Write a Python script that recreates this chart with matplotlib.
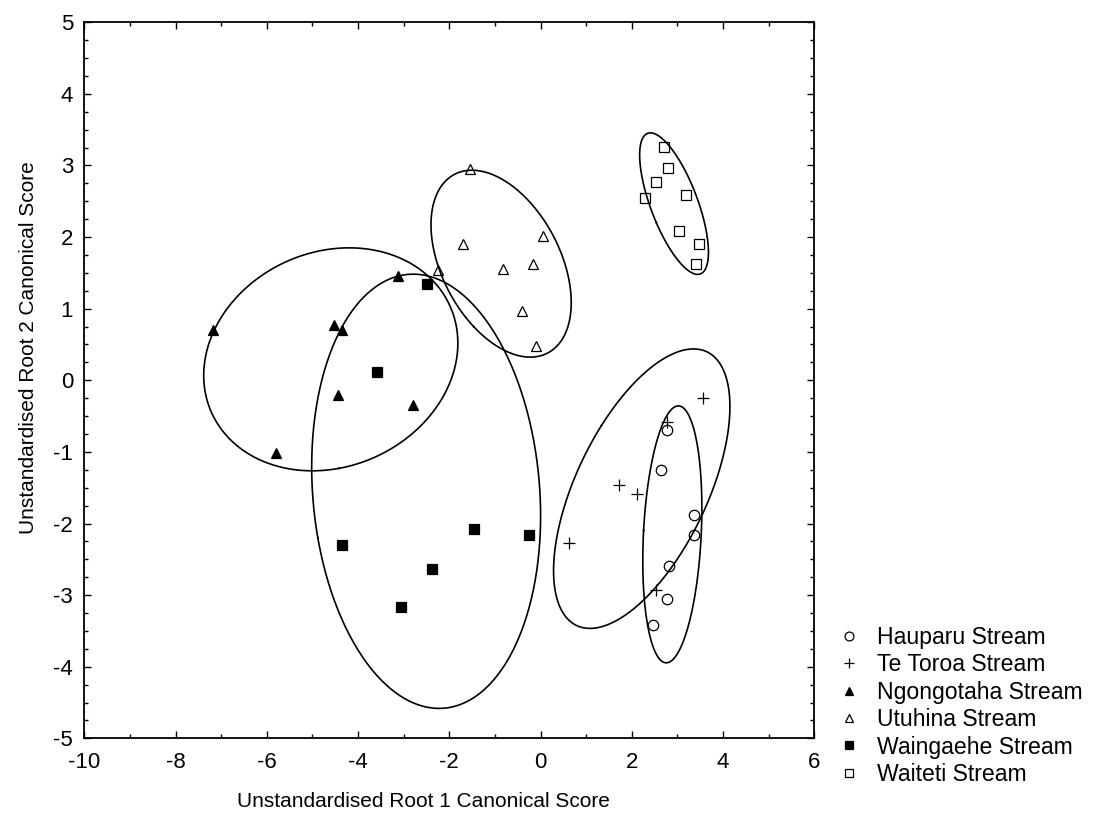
import numpy as np
import matplotlib.pyplot as plt
from matplotlib.ticker import MultipleLocator

plt.rcParams['font.family'] = ['Liberation Sans', 'DejaVu Sans']
plt.rcParams['axes.unicode_minus'] = False

# canonical scores, one pair of lists per stream
hauparu_x = [2.78, 2.64, 3.37, 3.37, 2.82, 2.78, 2.46]
hauparu_y = [-0.69, -1.25, -1.88, -2.16, -2.60, -3.06, -3.42]

tetoroa_x = [3.55, 2.77, 1.72, 2.11, 0.63, 2.53]
tetoroa_y = [-0.25, -0.58, -1.46, -1.59, -2.27, -2.93]

ngongotaha_x = [-7.18, -5.79, -4.52, -4.35, -4.43, -3.12, -2.79]
ngongotaha_y = [0.70, -1.01, 0.77, 0.70, -0.21, 1.45, -0.35]

utuhina_x = [-1.55, 0.06, -1.69, -2.24, -0.82, -0.16, -0.41, -0.10]
utuhina_y = [2.95, 2.02, 1.90, 1.54, 1.55, 1.62, 0.97, 0.48]

waingaehe_x = [-2.48, -3.58, -4.35, -1.46, -0.25, -2.37, -3.06]
waingaehe_y = [1.35, 0.12, -2.30, -2.07, -2.16, -2.63, -3.16]

waiteti_x = [2.71, 2.79, 2.53, 2.28, 3.18, 3.04, 3.48, 3.40]
waiteti_y = [3.26, 2.96, 2.77, 2.54, 2.59, 2.08, 1.91, 1.63]

groups = [
    ("Hauparu Stream", hauparu_x, hauparu_y, "o", "none", 7.5),
    ("Te Toroa Stream", tetoroa_x, tetoroa_y, "+", "black", 9),
    ("Ngongotaha Stream", ngongotaha_x, ngongotaha_y, "^", "black", 7.5),
    ("Utuhina Stream", utuhina_x, utuhina_y, "^", "none", 7.5),
    ("Waingaehe Stream", waingaehe_x, waingaehe_y, "s", "black", 7.5),
    ("Waiteti Stream", waiteti_x, waiteti_y, "s", "none", 7.5),
]

# two-sided 97.5% t quantiles by degrees of freedom, used to size the ellipses
T975 = {5: 2.571, 6: 2.447, 7: 2.365}


def draw_ellipse(ax, x, y):
    pts = np.column_stack([x, y])
    mu = pts.mean(axis=0)
    cov = np.cov(pts, rowvar=False)
    vals, vecs = np.linalg.eigh(cov)
    k = 0.755 * T975[len(x) - 1]
    t = np.linspace(0, 2 * np.pi, 400)
    circ = np.vstack([np.cos(t), np.sin(t)])
    xy = vecs @ (np.sqrt(vals)[:, None] * circ) * k + mu[:, None]
    ax.plot(xy[0], xy[1], color="black", lw=1.2, zorder=2)


fig = plt.figure(figsize=(10.93, 8.16), dpi=100)
ax = fig.add_axes([0.0771, 0.0952, 0.6679, 0.8775])

for name, x, y, m, fc, ms in groups:
    draw_ellipse(ax, x, y)
    ax.plot(x, y, linestyle="none", marker=m, markersize=ms,
            markerfacecolor=fc, markeredgecolor="black",
            markeredgewidth=0.9, label=name, zorder=3)

ax.set_xlim(-10, 6)
ax.set_ylim(-5, 5)
ax.xaxis.set_major_locator(MultipleLocator(2))
ax.xaxis.set_minor_locator(MultipleLocator(1))
ax.yaxis.set_major_locator(MultipleLocator(1))
ax.yaxis.set_minor_locator(MultipleLocator(0.25))
ax.tick_params(which="both", direction="in", top=True, right=True,
               labelsize=16, width=1.0)
ax.tick_params(axis="x", pad=10)
ax.tick_params(axis="y", pad=8)
ax.tick_params(which="major", length=5)
ax.tick_params(which="minor", length=3)
for s in ax.spines.values():
    s.set_linewidth(1.3)

ax.set_xlabel("Unstandardised Root 1 Canonical Score", fontsize=15)
ax.set_ylabel("Unstandardised Root 2 Canonical Score", fontsize=15)
ax.xaxis.set_label_coords(0.464, -0.075)
ax.yaxis.set_label_coords(-0.064, 0.545)

fig.legend(loc="upper left", bbox_to_anchor=(837 / 1093, 1 - 626 / 816),
           frameon=False, fontsize=16.6, handlelength=1.0, handletextpad=0.75,
           labelspacing=0.19, borderpad=0, borderaxespad=0, markerscale=0.85)

fig.savefig("out.png", dpi=100)
